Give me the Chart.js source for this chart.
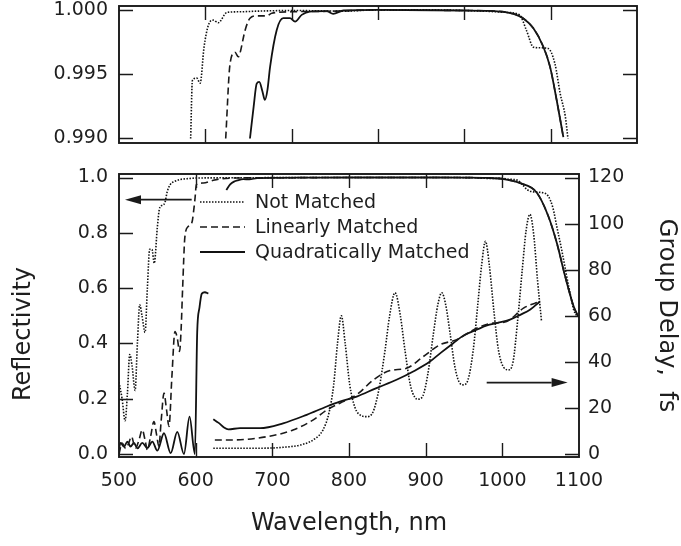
<!DOCTYPE html>
<html><head><meta charset="utf-8">
<script src="https://cdn.jsdelivr.net/npm/chart.js@4.4.1/dist/chart.umd.min.js"></script>
<style>
html,body{margin:0;padding:0;background:#fff;}
#wrap{position:relative;width:681px;height:546px;overflow:hidden;background:#fff;}
canvas{position:absolute;left:0;}
</style></head><body>
<div id="wrap">
<canvas id="cTop" width="681" height="160" style="top:0px"></canvas>
<canvas id="cBot" width="681" height="386" style="top:160px"></canvas>
</div>
<script>
// ---------- tick labels ----------
const X_TICKS = [500, 600, 700, 800, 900, 1000, 1100];
const TOP_R_TICKS = [0.990, 0.995, 1.000];
const REFL_TICKS = [0, 0.2, 0.4, 0.6, 0.8, 1.0];
const GD_TICKS = [0, 20, 40, 60, 80, 100, 120];
const SERIES = ['Not Matched', 'Linearly Matched', 'Quadratically Matched'];

// ---------- top panel (zoomed reflectivity) ----------
const NM_TOP_WL = [583, 585, 590, 594, 598.5, 603.5, 609, 615, 625, 640, 660, 700, 760, 800, 850, 900, 950, 964, 972, 980, 988, 997, 1005, 1011, 1017, 1020];
const NM_TOP_R  = [0.990, 0.9945, 0.9947, 0.9943, 0.9971, 0.9988, 0.9992, 0.9990, 0.9998, 0.99985, 0.9999, 0.99995, 0.9999, 1.0000, 1.0000, 0.99995, 0.9998, 0.9996, 0.9984, 0.9971, 0.99705, 0.9970, 0.9958, 0.9935, 0.9917, 0.9900];
const LM_TOP_WL = [623.6, 628.6, 634.4, 638.2, 640, 646, 651.7, 659.5, 671, 677, 700, 750, 800, 900, 930, 957, 968, 980, 991.5, 999.3, 1007, 1014.7];
const LM_TOP_R  = [0.990, 0.9958, 0.9967, 0.99635, 0.9966, 0.9984, 0.99935, 0.99953, 0.99953, 0.99974, 0.99985, 0.9999, 1.0, 0.99995, 0.99992, 0.99969, 0.99935, 0.99857, 0.99713, 0.99557, 0.99297, 0.9901];
const QM_TOP_WL = [651.7, 656, 659.5, 662.5, 666, 669, 672, 675, 682.7, 690.3, 698, 703.9, 711.6, 721, 740.6, 748, 760, 800, 900, 930, 957, 968, 980, 991.5, 999.3, 1007, 1014.7];
const QM_TOP_R  = [0.990, 0.9925, 0.99427, 0.9944, 0.9937, 0.9930, 0.9938, 0.99557, 0.99844, 0.99935, 0.99935, 0.99909, 0.99961, 0.99987, 0.9999, 0.99969, 0.99995, 1.0, 0.99995, 0.99992, 0.99969, 0.99935, 0.99857, 0.99713, 0.99557, 0.99297, 0.9901];

// ---------- bottom panel: reflectivity ----------
const NM_WL = [500, 504, 508, 511, 514, 517, 521, 524, 527, 530, 534, 537, 540, 543, 546, 550, 553, 557, 560, 563, 567, 572, 580, 590, 600, 650, 700, 800, 900, 960, 980, 1000, 1010, 1020, 1026, 1032, 1040, 1050, 1060, 1066, 1071, 1078, 1084, 1090, 1093, 1097];
const NM_R  = [0.26, 0.20, 0.12, 0.22, 0.36, 0.32, 0.23, 0.40, 0.54, 0.50, 0.44, 0.60, 0.74, 0.74, 0.69, 0.82, 0.89, 0.90, 0.91, 0.95, 0.975, 0.985, 0.993, 0.996, 0.998, 0.999, 0.9995, 1.0, 0.9999, 0.9996, 0.997, 0.997, 0.9935, 0.990, 0.975, 0.957, 0.948, 0.946, 0.932, 0.89, 0.823, 0.73, 0.642, 0.56, 0.522, 0.50];
const LM_WL = [500, 504, 508.7, 512, 516.5, 519, 521.7, 526, 530.4, 534, 537, 541, 545.6, 549, 552, 555, 558.7, 562, 565.2, 569, 573, 576, 579, 581, 583, 586, 590.4, 595, 599, 601, 610, 623, 632, 650, 700, 800, 900, 950, 980, 1000, 1023, 1045, 1060, 1071, 1082, 1093, 1099];
const LM_R  = [0.0, 0.04, 0.02, 0.035, 0.063, 0.04, 0.021, 0.05, 0.087, 0.05, 0.015, 0.06, 0.117, 0.07, 0.027, 0.12, 0.22, 0.16, 0.10, 0.28, 0.443, 0.42, 0.371, 0.45, 0.60, 0.787, 0.823, 0.836, 0.92, 0.975, 0.98, 0.99, 0.995, 0.998, 0.999, 1.0, 1.0, 0.9997, 0.998, 0.995, 0.98, 0.945, 0.86, 0.764, 0.642, 0.534, 0.497];
const QM_WL = [500, 502, 506.5, 511, 515, 519.5, 524, 530.4, 537, 543.5, 550, 558.7, 567.4, 576, 584.7, 592, 599, 602, 605, 608, 612, 616.5, 628, 640, 645, 650, 655, 662, 670, 680, 700, 750, 800, 900, 950, 980, 1000, 1023, 1045, 1060, 1071, 1082, 1093, 1099];
const QM_R  = [0.02, 0.04, 0.027, 0.045, 0.027, 0.04, 0.02, 0.04, 0.022, 0.045, 0.012, 0.075, 0.003, 0.08, 0.0, 0.135, 0.0, 0.44, 0.53, 0.58, 0.585, 0.58, null, 0.955, 0.975, 0.985, 0.99, 0.994, 0.993, 0.998, 0.999, 0.9995, 1.0, 1.0, 0.9997, 0.9986, 0.995, 0.98, 0.945, 0.86, 0.764, 0.642, 0.534, 0.497];

// ---------- bottom panel: group delay (fs) ----------
const NM_GD_WL = [623, 680, 714, 740, 755, 766, 774, 780, 785, 790, 795, 801, 808, 815, 823, 831, 839, 847, 853, 860, 867, 873, 880, 886, 890, 896, 903, 910, 916, 921, 926, 932, 938, 944, 949, 955, 962, 968, 973, 978, 983, 989, 995, 1002, 1008, 1014, 1020, 1026, 1031, 1036, 1041, 1046, 1051];
const NM_GD    = [2.5, 2.5, 2.9, 4.2, 6.5, 10.4, 18, 30, 48, 60, 48, 30, 20, 16.8, 16.2, 18, 28, 45, 60, 70, 60, 45, 30, 24.5, 23.8, 25, 35, 52, 65, 70, 65, 52, 38, 31, 30, 32, 45, 65, 82, 92.3, 82, 62, 45, 37.5, 36.5, 40, 58, 80, 97, 104, 95, 75, 58];
const LM_GD_WL = [625, 649, 692.6, 727, 753.4, 771, 788, 810, 832, 853.5, 875, 897, 918.7, 940.4, 966.5, 988, 1005.7, 1027.6, 1049];
const LM_GD    = [6.1, 6.1, 7.5, 10.4, 14.8, 19.1, 22, 25.7, 32.2, 36.2, 37.2, 42.3, 47.4, 49.6, 54.6, 56.8, 57.5, 63.3, 66.2];
const QM_GD_WL = [623, 630, 637, 642.6, 657.8, 684, 714, 744.8, 771, 788, 810, 835, 862, 885, 905.6, 920, 936, 950, 966.5, 980, 992.6, 1010, 1024, 1036, 1049];
const QM_GD    = [15.1, 13.5, 11.5, 10.7, 11.2, 11.2, 13.3, 17, 20.6, 22.7, 24.9, 28.5, 32.2, 36, 40.1, 44, 48.1, 51.5, 53.9, 55.8, 56.8, 58.3, 60.5, 62.6, 66.2];

// arrows (data coordinates: wavelength, value on the named axis)
const ARROW_REFL = {axis: 'y',  x0: 594.8, x1: 507.8, v: 0.92};
const ARROW_GD   = {axis: 'y2', x0: 979.6, x1: 1085.2, v: 31};

// ---------- styling ----------
const INK = '#1a1a1a';
const FONT = 'DejaVu Sans';
const STYLE = [
  {borderColor: '#111', borderWidth: 1.6, borderDash: [1.5, 1.5]},
  {borderColor: INK, borderWidth: 1.6, borderDash: [7, 4]},
  {borderColor: '#111', borderWidth: 1.8, borderDash: []}
];
const pts = (xs, ys) => xs.map((x, i) => ({x: x, y: ys[i]}));
function ds(label, xs, ys, k, axis) {
  return Object.assign({
    label: label, data: pts(xs, ys), yAxisID: axis, pointRadius: 0,
    fill: false, cubicInterpolationMode: 'monotone', spanGaps: false
  }, STYLE[k]);
}
function noPad(s) { s.paddingTop = 0; s.paddingBottom = 0; s.paddingLeft = 0; s.paddingRight = 0; }

function frameTicks(leftId, rightId) {
  return {
    id: 'frameTicks',
    afterDatasetsDraw(chart) {
      const {ctx, chartArea: a, scales} = chart;
      const L = 14;
      ctx.save();
      ctx.setLineDash([]);
      ctx.strokeStyle = INK;
      ctx.lineWidth = 1.4;
      ctx.beginPath();
      const xs = scales.x;
      xs.ticks.forEach(t => {
        if (t.value <= xs.min || t.value >= xs.max) return;
        const p = Math.round(xs.getPixelForValue(t.value)) + 0.5;
        ctx.moveTo(p, a.bottom); ctx.lineTo(p, a.bottom - L);
        ctx.moveTo(p, a.top); ctx.lineTo(p, a.top + L);
      });
      const ls = scales[leftId];
      ls.ticks.forEach(t => {
        const p = Math.round(ls.getPixelForValue(t.value)) + 0.5;
        ctx.moveTo(a.left, p); ctx.lineTo(a.left + L, p);
      });
      const rs = scales[rightId];
      rs.ticks.forEach(t => {
        const p = Math.round(rs.getPixelForValue(t.value)) + 0.5;
        ctx.moveTo(a.right, p); ctx.lineTo(a.right - L, p);
      });
      ctx.stroke();
      ctx.lineWidth = 1.9;
      ctx.strokeRect(a.left, a.top, a.right - a.left, a.bottom - a.top);
      ctx.restore();
    }
  };
}

const tickFont = {family: FONT, size: 19};

// ---------- top chart ----------
new Chart(document.getElementById('cTop'), {
  type: 'line',
  data: {datasets: [
    ds(SERIES[0], NM_TOP_WL, NM_TOP_R, 0, 'y'),
    ds(SERIES[1], LM_TOP_WL, LM_TOP_R, 1, 'y'),
    ds(SERIES[2], QM_TOP_WL, QM_TOP_R, 2, 'y')
  ]},
  options: {
    responsive: false, animation: false, devicePixelRatio: 1,
    layout: {padding: {left: 0, top: 6, right: 44, bottom: 0}},
    plugins: {legend: {display: false}, tooltip: {enabled: false}},
    scales: {
      x: {type: 'linear', min: 500, max: 1100,
          afterBuildTicks: s => { s.ticks = X_TICKS.map(v => ({value: v})); },
          ticks: {display: false}, grid: {display: false, drawTicks: false}, border: {display: false},
          afterFit: s => { s.height = 17; noPad(s); }},
      y: {type: 'linear', min: 0.98965, max: 1.0003,
          afterBuildTicks: s => { s.ticks = TOP_R_TICKS.map(v => ({value: v})); },
          ticks: {font: tickFont, color: '#1e1e1e', padding: 11, callback: v => v.toFixed(3)},
          grid: {display: false, drawTicks: false}, border: {display: false},
          afterFit: s => { s.width = 119; noPad(s); }}
    }
  },
  plugins: [frameTicks('y', 'y')]
});

// ---------- bottom chart ----------
const decor = {
  id: 'decor',
  afterDraw(chart) {
    const {ctx, chartArea: a, scales} = chart;
    ctx.save();
    // arrows
    [ARROW_REFL, ARROW_GD].forEach(ar => {
      const ys = scales[ar.axis];
      const x0 = scales.x.getPixelForValue(ar.x0), x1 = scales.x.getPixelForValue(ar.x1);
      const y = ys.getPixelForValue(ar.v);
      const dir = Math.sign(x1 - x0), head = 16, hw = 4.5;
      ctx.setLineDash([]);
      ctx.strokeStyle = INK; ctx.fillStyle = INK; ctx.lineWidth = 1.8;
      ctx.beginPath(); ctx.moveTo(x0, y); ctx.lineTo(x1 - dir * head, y); ctx.stroke();
      ctx.beginPath(); ctx.moveTo(x1, y); ctx.lineTo(x1 - dir * head, y - hw); ctx.lineTo(x1 - dir * head, y + hw); ctx.closePath(); ctx.fill();
    });
    // legend
    const lx0 = a.left + 81, lx1 = a.left + 126, tx = a.left + 136;
    ctx.font = '19px "' + FONT + '"';
    ctx.textBaseline = 'middle'; ctx.textAlign = 'left';
    chart.data.datasets.slice(0, 3).forEach((d, i) => {
      const y = a.top + 28 + i * 25;
      ctx.strokeStyle = d.borderColor; ctx.lineWidth = d.borderWidth;
      ctx.setLineDash(d.borderDash);
      ctx.beginPath(); ctx.moveTo(lx0, y); ctx.lineTo(lx1, y); ctx.stroke();
      ctx.setLineDash([]);
      ctx.fillStyle = '#1e1e1e';
      ctx.fillText(d.label, tx, y + 1);
    });
    // left axis title
    ctx.font = '24px "' + FONT + '"';
    ctx.fillStyle = '#1e1e1e';
    ctx.translate(24, 174);
    ctx.rotate(-Math.PI / 2);
    ctx.textAlign = 'center'; ctx.textBaseline = 'middle';
    ctx.fillText('Reflectivity', 0, 0);
    ctx.restore();
  }
};

new Chart(document.getElementById('cBot'), {
  type: 'line',
  data: {datasets: [
    ds(SERIES[0], NM_WL, NM_R, 0, 'y'),
    ds(SERIES[1], LM_WL, LM_R, 1, 'y'),
    ds(SERIES[2], QM_WL, QM_R, 2, 'y'),
    ds(SERIES[0] + ' (group delay)', NM_GD_WL, NM_GD, 0, 'y2'),
    ds(SERIES[1] + ' (group delay)', LM_GD_WL, LM_GD, 1, 'y2'),
    ds(SERIES[2] + ' (group delay)', QM_GD_WL, QM_GD, 2, 'y2')
  ]},
  options: {
    responsive: false, animation: false, devicePixelRatio: 1,
    layout: {padding: {left: 0, top: 14, right: 0, bottom: 0}},
    plugins: {legend: {display: false}, tooltip: {enabled: false}},
    scales: {
      x: {type: 'linear', min: 500, max: 1100,
          afterBuildTicks: s => { s.ticks = X_TICKS.map(v => ({value: v})); },
          ticks: {font: tickFont, color: '#1e1e1e', padding: 13, maxRotation: 0, autoSkip: false, callback: v => String(v)},
          grid: {display: false, drawTicks: false}, border: {display: false},
          title: {display: true, text: 'Wavelength, nm', font: {family: FONT, size: 24}, color: '#1e1e1e', padding: {top: 0, bottom: 8}},
          afterFit: s => { s.height = 89; noPad(s); }},
      y: {type: 'linear', position: 'left', min: -0.0109, max: 1.0127,
          afterBuildTicks: s => { s.ticks = REFL_TICKS.map(v => ({value: v})); },
          ticks: {font: tickFont, color: '#1e1e1e', padding: 11, callback: v => v.toFixed(1)},
          grid: {display: false, drawTicks: false}, border: {display: false},
          afterFit: s => { s.width = 119; noPad(s); }},
      y2: {type: 'linear', position: 'right', min: -1.31, max: 121.52,
          afterBuildTicks: s => { s.ticks = GD_TICKS.map(v => ({value: v})); },
          ticks: {font: tickFont, color: '#1e1e1e', padding: 9, callback: v => String(v)},
          grid: {display: false, drawTicks: false}, border: {display: false},
          title: {display: true, text: 'Group Delay,  fs', font: {family: FONT, size: 24}, color: '#1e1e1e', padding: {top: 0, bottom: 0}},
          afterFit: s => { s.width = 102; noPad(s); }}
    }
  },
  plugins: [frameTicks('y', 'y2'), decor]
});
</script>
</body></html>
